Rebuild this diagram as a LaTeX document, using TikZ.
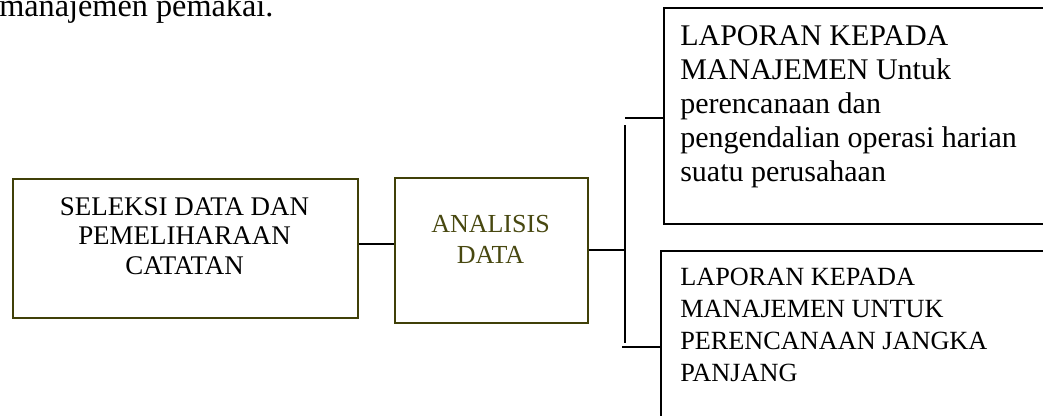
\documentclass[tikz,border=0pt]{standalone}
\usepackage{fontspec}
\setmainfont{Liberation Serif}
\definecolor{olivebrd}{RGB}{64,64,8}
\definecolor{olivetxt}{RGB}{72,72,16}
\tikzset{
  px/.style={x=0.75pt,y=-0.75pt},
  olivebox/.style={draw=olivebrd,line width=1.5pt,inner sep=0pt,anchor=north west},
  blackbox/.style={draw=black,line width=1.2pt,inner sep=0pt,anchor=north west},
  link/.style={draw=black,line width=1.2pt},
  txt/.style={inner sep=0pt,anchor=base west},
}
\begin{document}
\begin{tikzpicture}[px]
\useasboundingbox (0,0) rectangle (1043,415);
\clip (0,0) rectangle (1043,415);

% running text above the chart
\node[txt] (para) at (-1,16) {\fontsize{24.2}{28}\selectfont manajemen pemakai.};

% boxes
\node[olivebox,minimum width=345*0.75pt,minimum height=139*0.75pt] (sel) at (12,178) {};
\node[olivebox,minimum width=193*0.75pt,minimum height=145*0.75pt] (ana) at (394,177) {};
\node[blackbox,minimum width=400*0.75pt,minimum height=216*0.75pt] (lap1) at (663,7) {};
\node[blackbox,minimum width=400*0.75pt,minimum height=190*0.75pt] (lap2) at (660,250) {};

% box texts
\node[inner sep=0pt,anchor=base] (seltxt) at (184.5,215.7)
  {\parbox[t]{320\dimexpr0.75pt}{\centering\fontsize{20.2}{21.9}\selectfont
   SELEKSI DATA DAN\\PEMELIHARAAN\\CATATAN}};
\node[inner sep=0pt,anchor=base] (anatxt) at (490.5,215.5)
  {\parbox[t]{180\dimexpr0.75pt}{\centering\color{olivetxt}\fontsize{19.5}{22.8}\selectfont
   ANALISIS\\DATA}};
\node[txt] (lap1txt) at (680,45)
  {\parbox[t]{380\dimexpr0.75pt}{\raggedright\fontsize{22.5}{25.6}\selectfont
   LAPORAN KEPADA\\MANAJEMEN Untuk\\perencanaan dan\\pengendalian operasi harian\\suatu perusahaan}};
\node[txt] (lap2txt) at (680,285)
  {\parbox[t]{380\dimexpr0.75pt}{\raggedright\fontsize{19.7}{24.2}\selectfont
   LAPORAN KEPADA\\MANAJEMEN UNTUK\\PERENCANAAN JANGKA\\PANJANG}};

% connectors
\coordinate (trunkTop) at (625,125);
\coordinate (trunkBot) at (625,343);
\coordinate (branchTop) at (625,118);
\coordinate (branchBot) at (622,347);
\draw[link] (sel.east |- 0,244) -- (ana.west |- 0,244);
\draw[link] (ana.east |- 0,250) -- (trunkTop |- 0,250);
\draw[link] (trunkTop) -- (trunkBot);
\draw[link] (branchTop) -- (lap1.west |- branchTop);
\draw[link] (branchBot) -- (lap2.west |- branchBot);
\end{tikzpicture}
\end{document}
